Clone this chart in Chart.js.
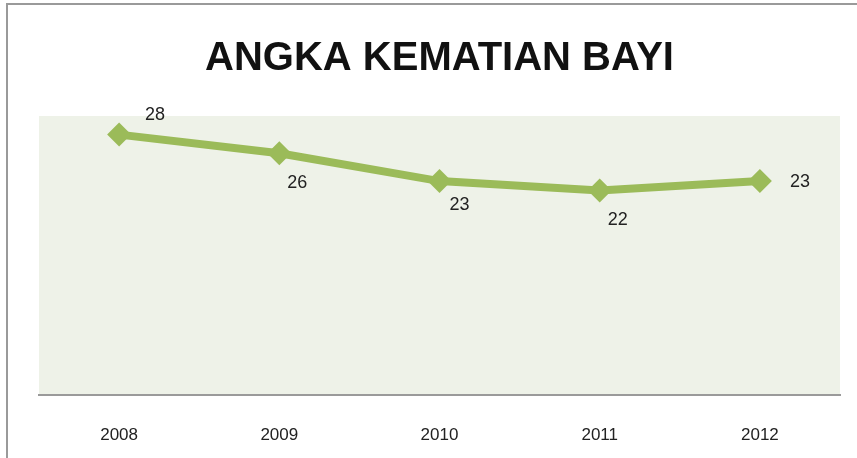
<!DOCTYPE html>
<html>
<head>
<meta charset="utf-8">
<script src="https://cdn.jsdelivr.net/npm/chart.js@4.4.1/dist/chart.umd.min.js"></script>
<style>
  html, body { margin: 0; padding: 0; background: #fff; }
  #wrap { position: relative; width: 857px; height: 458px; }
  #frame { position: absolute; left: 6px; top: 3px; right: 0; bottom: 0;
           border-top: 2px solid #9a9a9a; border-left: 2px solid #9a9a9a; pointer-events: none; }
  canvas { position: absolute; left: 0; top: 0; }
</style>
</head>
<body>
<div id="wrap">
  <canvas id="chart" width="857" height="458"></canvas>
  <div id="frame"></div>
</div>
<script>
// data
const years = ['2008', '2009', '2010', '2011', '2012'];
const kematianBayi = [28, 26, 23, 22, 23];

// where each value label sits relative to its point
const labelSpots = [
  { dx: 36, dy: -20 },
  { dx: 18, dy: 30 },
  { dx: 20, dy: 24 },
  { dx: 18, dy: 30 },
  { dx: 40, dy: 1 }
];

// light green plot background
const plotBg = {
  id: 'plotBg',
  beforeDraw(chart) {
    const { ctx, chartArea: a } = chart;
    ctx.save();
    ctx.fillStyle = '#eef2e8';
    ctx.fillRect(a.left, a.top, a.right - a.left, a.bottom - a.top);
    ctx.restore();
  }
};

// value labels next to the points
const valueLabels = {
  id: 'valueLabels',
  afterDatasetsDraw(chart) {
    const ctx = chart.ctx;
    const meta = chart.getDatasetMeta(0);
    ctx.save();
    ctx.font = '18px "Liberation Sans", Arial, sans-serif';
    ctx.fillStyle = '#222';
    ctx.textAlign = 'center';
    ctx.textBaseline = 'middle';
    meta.data.forEach((pt, i) => {
      const s = labelSpots[i];
      ctx.fillText(String(kematianBayi[i]), pt.x + s.dx, pt.y + s.dy);
    });
    ctx.restore();
  }
};

new Chart(document.getElementById('chart'), {
  type: 'line',
  data: {
    labels: years,
    datasets: [{
      data: kematianBayi,
      borderColor: '#9bbb59',
      backgroundColor: '#9bbb59',
      borderWidth: 8,
      pointStyle: 'rectRot',
      pointRadius: 12,
      pointHoverRadius: 12,
      pointBorderWidth: 0,
      tension: 0
    }]
  },
  options: {
    responsive: false,
    animation: false,
    layout: { padding: { left: 39, right: 17, top: 35, bottom: 0 } },
    plugins: {
      legend: { display: false },
      tooltip: { enabled: false },
      title: {
        display: true,
        text: 'ANGKA KEMATIAN BAYI',
        color: '#111',
        font: { family: '"Liberation Sans", Arial, sans-serif', size: 40, weight: 'bold' },
        padding: { top: 0, bottom: 33 }
      }
    },
    scales: {
      x: {
        offset: true,
        grid: { display: false },
        border: { display: true, color: '#9a9a9a', width: 2 },
        ticks: {
          color: '#222',
          padding: 22,
          font: { family: '"Liberation Sans", Arial, sans-serif', size: 17 }
        },
        afterFit(scale) { scale.height = 63; }
      },
      y: {
        display: false,
        min: 0,
        max: 30
      }
    }
  },
  plugins: [plotBg, valueLabels]
});
</script>
</body>
</html>
